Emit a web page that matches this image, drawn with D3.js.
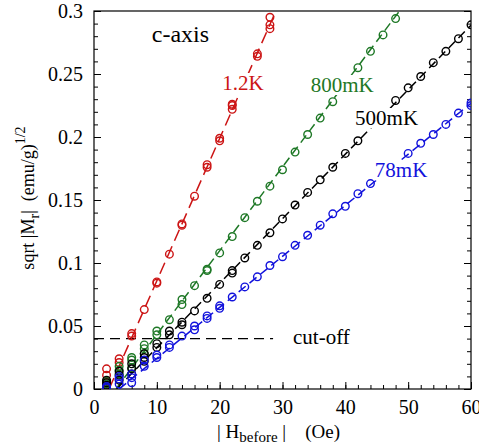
<!DOCTYPE html>
<html>
<head>
<meta charset="utf-8">
<script src="https://cdn.jsdelivr.net/npm/d3@7"></script>
<style>
  body { margin: 0; background: #fff; }
  text { font-family: "Liberation Serif", "Times New Roman", serif; }
</style>
</head>
<body>
<svg id="chart" width="479" height="446"></svg>
<script>
// field values (Oe) and sqrt|Mr| for each temperature, repeated runs share the same H
var H_12K = [2,2,2,2,4,4,6,6,8,10,10,12,14,14,16,18,18,20,20,22,22,22,26,26,28,28,28]
var V_12K = [0.016,0.011,0.006,0.003,0.024,0.021,0.044,0.042,0.063,0.085,0.084,0.107,0.130,0.131,0.153,0.176,0.178,0.199,0.197,0.222,0.225,0.226,0.264,0.266,0.286,0.289,0.295]

var H_800 = [2,2,2,4,4,4,6,6,6,8,8,8,10,10,12,14,14,16,18,18,20,22,24,26,28,30,32,34,36,38,42,44,46,48]
var V_800 = [0.006,0.004,0.002,0.018,0.015,0.012,0.025,0.023,0.017,0.035,0.032,0.028,0.046,0.043,0.055,0.071,0.067,0.082,0.095,0.094,0.108,0.121,0.136,0.149,0.161,0.174,0.188,0.202,0.215,0.228,0.255,0.268,0.281,0.294]

var H_500 = [2,2,2,4,4,4,6,6,6,8,8,8,10,10,12,12,14,14,16,18,20,22,22,24,26,28,30,32,34,36,38,40,42,48,50,52,54,56,58,60]
var V_500 = [0.007,0.005,0.003,0.014,0.011,0.007,0.020,0.016,0.012,0.028,0.025,0.022,0.036,0.033,0.046,0.043,0.053,0.051,0.062,0.072,0.083,0.094,0.092,0.104,0.114,0.124,0.135,0.146,0.156,0.166,0.176,0.187,0.197,0.229,0.239,0.248,0.259,0.268,0.278,0.289]

var H_78 = [2,2,4,4,4,6,6,6,8,8,10,10,12,12,14,16,16,18,18,20,20,22,24,26,28,30,32,34,36,38,40,42,44,50,52,54,56,58,60,60]
var V_78 = [0.002,0.001,0.010,0.008,0.004,0.012,0.009,0.005,0.023,0.018,0.027,0.025,0.035,0.033,0.042,0.050,0.047,0.058,0.056,0.066,0.064,0.073,0.081,0.089,0.098,0.105,0.114,0.122,0.130,0.139,0.145,0.155,0.163,0.187,0.195,0.202,0.210,0.219,0.227,0.225]

// linear fits: sqrt|Mr| = slope * (H - H0)
var seriesNames = ["1.2K", "800mK", "500mK", "78mK"]
var fitSlope = [0.0113, 0.00665, 0.00512, 0.00405]
var fitH0 = [2.4, 3.5, 3.6, 4.0]
var labelH = [20.4, 34.5, 41.55, 44.7]
var labelV = [0.2373, 0.2357, 0.2095, 0.168]

var cutoff = 0.04
var xTicks = [0, 10, 20, 30, 40, 50, 60]
var yTicks = [0, 0.05, 0.1, 0.15, 0.2, 0.25, 0.3]

const styles = {
    width: 479,
    height: 446,
    margin_top: 11,
    margin_right: 8,
    margin_bottom: 57,
    margin_left: 94
}
var colors = ["#cc1414", "#1e7826", "#000000", "#1212dc"]

var seriesH = [H_12K, H_800, H_500, H_78]
var seriesV = [V_12K, V_800, V_500, V_78]

var svg = d3.select("#chart")
var pw = styles.width - styles.margin_left - styles.margin_right
var ph = styles.height - styles.margin_top - styles.margin_bottom

var xScale = d3.scaleLinear().domain([0, 60]).range([styles.margin_left, styles.margin_left + pw])
var yScale = d3.scaleLinear().domain([0, 0.3]).range([styles.margin_top + ph, styles.margin_top])

svg.append("defs").append("clipPath").attr("id", "plotclip")
    .append("rect")
    .attr("x", styles.margin_left).attr("y", styles.margin_top)
    .attr("width", pw).attr("height", ph)

// frame
svg.append("rect")
    .attr("x", styles.margin_left).attr("y", styles.margin_top)
    .attr("width", pw).attr("height", ph)
    .attr("fill", "none").attr("stroke", "#000").attr("stroke-width", 1.2)

// ticks pointing inward
var xMinor = d3.range(0, 61, 2)
var yMinor = d3.range(0, 0.3001, 0.01)

x_axis = svg.append("g")
    .attr("transform", "translate(0," + (styles.margin_top + ph) + ")")
    .call(d3.axisBottom(xScale).tickValues(xTicks).tickSize(-7).tickPadding(11).tickFormat(d3.format("d")))
x_axis.select(".domain").remove()
x_axis.selectAll("text").attr("font-size", 20)
svg.append("g")
    .attr("transform", "translate(0," + (styles.margin_top + ph) + ")")
    .call(d3.axisBottom(xScale).tickValues(xMinor).tickSize(-4).tickFormat(""))
    .select(".domain").remove()

y_axis = svg.append("g")
    .attr("transform", "translate(" + styles.margin_left + ",0)")
    .call(d3.axisLeft(yScale).tickValues(yTicks).tickSize(-7).tickPadding(11).tickFormat(d => d === 0 ? "0" : String(d)))
y_axis.select(".domain").remove()
y_axis.selectAll("text").attr("font-size", 20)
svg.append("g")
    .attr("transform", "translate(" + styles.margin_left + ",0)")
    .call(d3.axisLeft(yScale).tickValues(yMinor).tickSize(-4).tickFormat(""))
    .select(".domain").remove()

svg.append("g")
    .attr("transform", "translate(" + (styles.margin_left + pw) + ",0)")
    .call(d3.axisRight(yScale).tickValues(yTicks).tickSize(-7).tickFormat(""))
    .select(".domain").remove()
svg.append("g")
    .attr("transform", "translate(" + (styles.margin_left + pw) + ",0)")
    .call(d3.axisRight(yScale).tickValues(yMinor).tickSize(-4).tickFormat(""))
    .select(".domain").remove()
svg.selectAll(".tick line").attr("stroke-width", 1)

var plot = svg.append("g").attr("clip-path", "url(#plotclip)")

// cut-off line
plot.append("line")
    .attr("x1", xScale(0)).attr("x2", xScale(28.5))
    .attr("y1", yScale(cutoff)).attr("y2", yScale(cutoff))
    .attr("stroke", "#000").attr("stroke-width", 1.3)
    .attr("stroke-dasharray", "10,6")

// fit lines
var line = d3.line().x(d => xScale(d[0])).y(d => yScale(d[1]))
for (let i = 0; i < seriesNames.length; i++) {
    let hEnd = Math.min(60, fitH0[i] + 0.3 / fitSlope[i])
    let pts = [[fitH0[i], 0], [hEnd, fitSlope[i] * (hEnd - fitH0[i])]]
    plot.append("path")
        .attr("d", line(pts))
        .attr("stroke", colors[i])
        .attr("stroke-width", 1.5)
        .attr("stroke-dasharray", i == 0 ? "12,6" : "9,5")
        .attr("fill", "none")
}

// labels with opaque background
function addLabel(txt, x, y, color, size) {
    var t = svg.append("text")
        .attr("x", x).attr("y", y)
        .attr("font-size", size)
        .attr("fill", color)
        .text(txt)
    var bb = t.node().getBBox()
    svg.insert("rect", function(){ return t.node() })
        .attr("x", bb.x - 1).attr("y", bb.y + 2)
        .attr("width", bb.width + 2).attr("height", bb.height - 4)
        .attr("fill", "#fff")
    return t
}
for (let i = 0; i < seriesNames.length; i++) {
    addLabel(seriesNames[i], xScale(labelH[i]), yScale(labelV[i]), colors[i], 21)
}
addLabel("cut-off", xScale(31.67), yScale(0.0357), "#000", 21)
svg.append("text")
    .attr("x", xScale(9.2)).attr("y", yScale(0.2754))
    .attr("font-size", 24)
    .text("c-axis")

// data points
for (let i = 0; i < seriesNames.length; i++) {
    var pts = seriesH[i].map((h, k) => [h, seriesV[i][k]])
    plot.selectAll(".pt" + i)
        .data(pts)
        .join("circle")
            .attr("class", "pt" + i)
            .attr("cx", d => xScale(d[0]))
            .attr("cy", d => yScale(d[1]))
            .attr("r", 3.8)
            .attr("fill", "none")
            .attr("stroke", colors[i])
            .attr("stroke-width", 1.4)
}

// axis titles
var xl = svg.append("text")
    .attr("x", 217).attr("y", 438)
    .attr("font-size", 19)
    .style("white-space", "pre")
xl.append("tspan").text("| H")
xl.append("tspan").attr("font-size", 15).attr("dy", 4).text("before")
xl.append("tspan").attr("dy", -4).text(" |    (Oe)")

var yl = svg.append("text")
    .attr("transform", "translate(34," + 198 + ") rotate(-90)")
    .attr("text-anchor", "middle")
    .attr("font-size", 18)
    .style("white-space", "pre")
yl.append("tspan").text("sqrt |M")
yl.append("tspan").attr("font-size", 14).attr("dy", 5).text("r")
yl.append("tspan").attr("dy", -5).text("|  (emu/g)")
yl.append("tspan").attr("font-size", 14).attr("dy", -9).text("1/2")
</script>
</body>
</html>
